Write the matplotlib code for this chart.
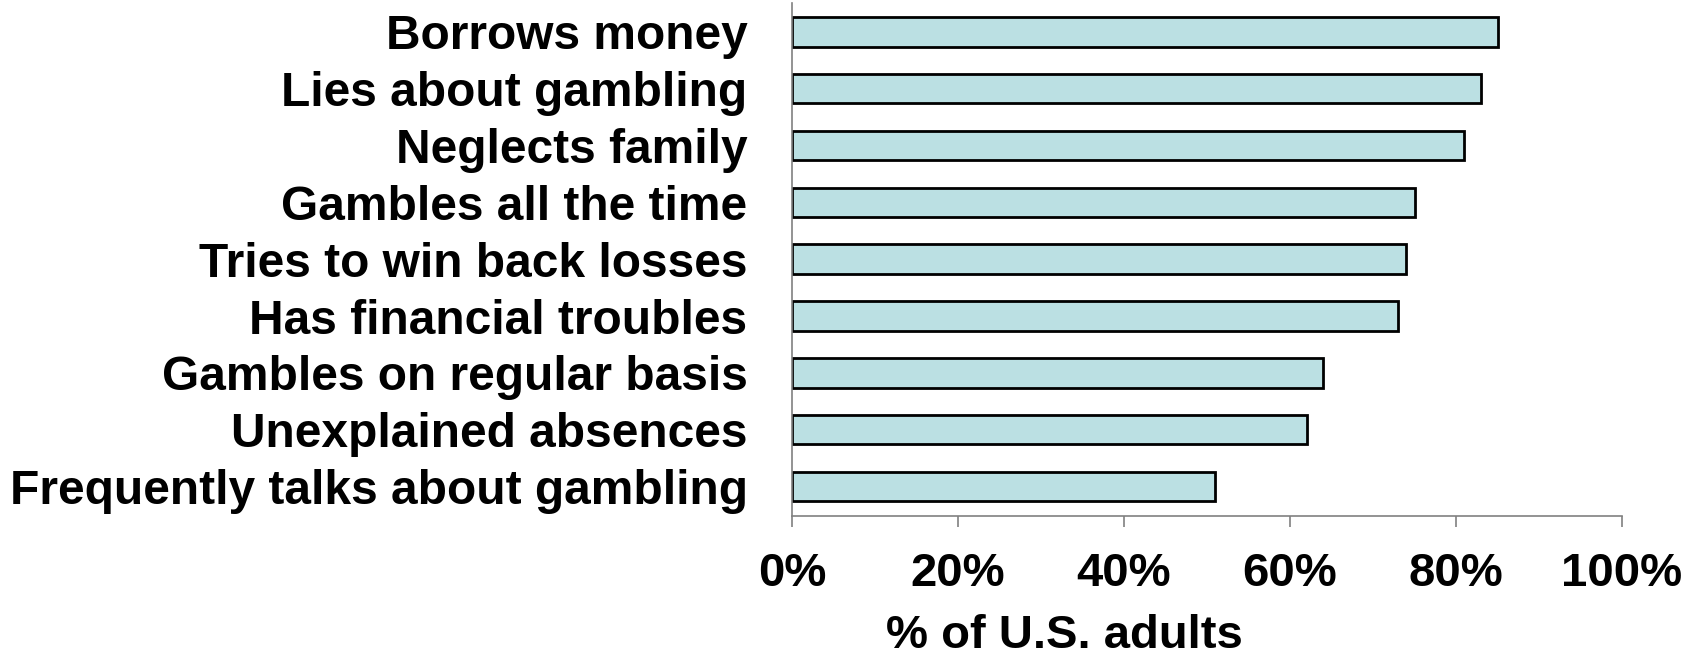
import matplotlib
matplotlib.use("Agg")
import matplotlib.pyplot as plt
from matplotlib.ticker import FuncFormatter

categories = ["Borrows money", "Lies about gambling", "Neglects family",
              "Gambles all the time", "Tries to win back losses",
              "Has financial troubles", "Gambles on regular basis",
              "Unexplained absences", "Frequently talks about gambling"]
values = [85, 83, 81, 75, 74, 73, 64, 62, 51]
xticks = [0, 20, 40, 60, 80, 100]
xlabel = "% of U.S. adults"

plt.rcParams['font.family'] = ['Liberation Sans', 'DejaVu Sans']

fig = plt.figure(figsize=(16.96, 6.57), dpi=100)
ax = fig.add_axes([792/1696, 1-516/657, (1622-792)/1696, (516-3.5)/657])

ypos = list(range(len(categories)))
ax.barh(ypos, values, height=0.52, color="#BBE0E3", edgecolor="black", linewidth=2.0)
ax.set_ylim(len(categories)-0.5+0.02, -0.5)
ax.set_xlim(0, 100)
ax.set_yticks(ypos)
ax.set_yticklabels(categories, fontsize=34.5, fontweight="bold")
ax.set_xticks(xticks)
ax.xaxis.set_major_formatter(FuncFormatter(lambda v, p: f"{int(v)}%"))
for lab in ax.get_xticklabels():
    lab.set_fontsize(34)
    lab.set_fontweight("bold")
ax.tick_params(axis="y", length=0, pad=32)
ax.tick_params(axis="x", length=8, width=1.2, color="#808080", direction="out", pad=18)
ax.set_xlabel(xlabel, fontsize=34, fontweight="bold")
ax.xaxis.label.set_va("center")
ax.xaxis.set_label_coords(0.328, -0.234)
for s in ["top", "right"]:
    ax.spines[s].set_visible(False)
for s in ["left", "bottom"]:
    ax.spines[s].set_color("#808080")
    ax.spines[s].set_linewidth(1.2)

fig.savefig("out.png", dpi=100)
